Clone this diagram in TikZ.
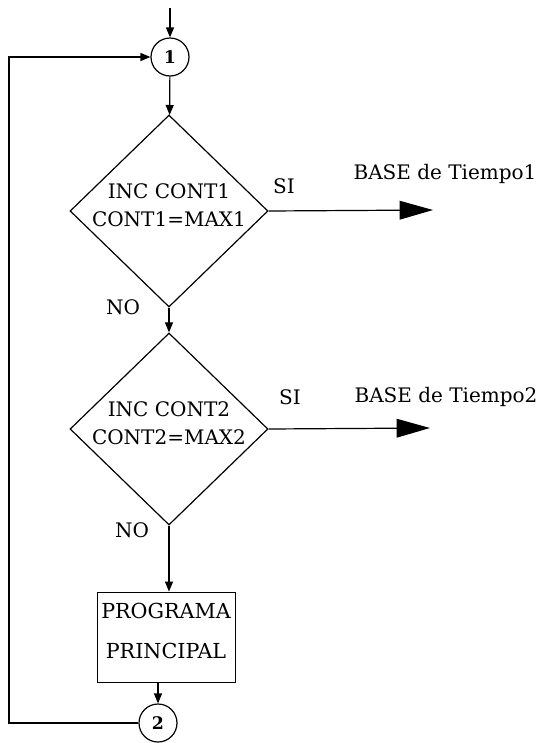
\documentclass[tikz,border=0pt]{standalone}
\usepackage{fontspec}
\setmainfont{DejaVu Serif}
\usetikzlibrary{shapes.geometric,arrows.meta}

\tikzset{every picture/.style={line width=0.9pt}}
\tikzset{
	conn/.style={draw,circle,inner sep=0pt,minimum size=28.5pt,font=\fontsize{13}{16}\selectfont\bfseries},
	decis/.style={draw,diamond,inner sep=0pt,minimum width=148.5pt,minimum height=144pt},
	progbox/.style={draw,rectangle,inner sep=0pt,minimum width=104pt,minimum height=68pt},
	lbl/.style={inner sep=0.75pt,font=\fontsize{15}{21}\selectfont},
	flow/.style={-{Triangle[length=7.5pt,width=6pt]}},
	bigflow/.style={-{Triangle[length=25pt,width=14pt]}},
}

\begin{document}
\begin{tikzpicture}[x=0.75pt,y=0.75pt,yscale=-1,xscale=1]
	\useasboundingbox (0,0) rectangle (542,743);

	% Connectors and blocks
	\node[conn] (c1) at (170,57) {1};
	\node[decis] (d1) at (169,211) {};
	\node[decis] (d2) at (169,429) {};
	\node[progbox] (prog) at (166.5,637.5) {};
	\node[conn] (c2) at (158,723) {2};

	% free ends
	\coordinate (entry) at (170,8);
	\coordinate (out1) at (433,210);
	\coordinate (out2) at (430,428);
	\coordinate (loop) at (9,723);

	% Text Node
	\node[lbl,align=center] (txt1) at (169,205) {INC CONT1\\CONT1=MAX1};
	% Text Node
	\node[lbl,align=center] (txt2) at (169,423) {INC CONT2\\CONT2=MAX2};
	% Text Node
	\node[lbl,align=center,font=\fontsize{15.5}{30}\selectfont] (txtp) at (166,631) {PROGRAMA\\PRINCIPAL};
	% Text Node
	\node[lbl] (si1) at (284,186) {SI};
	\node[lbl] (si2) at (290,397) {SI};
	% Text Node
	\node[lbl] (base1) at (445,174) {BASE de Tiempo1};
	\node[lbl] (base2) at (446,397) {BASE de Tiempo2};
	% Text Node
	\node[lbl] (no1) at (123,307) {NO};
	\node[lbl] (no2) at (132,530) {NO};

	% Straight Lines
	\draw[flow] (entry) -- (c1);
	\draw[flow] (c1) -- (d1);
	\draw[flow] (d1) -- (d2);
	\draw[flow] (d2.south) -- (d2.south |- prog.north);
	\draw[flow] (c2.north |- prog.south) -- (c2);
	\draw[flow,line width=1.1pt] (c2.west) -- (loop) |- (c1.west);
	\draw[bigflow] (d1.east) -- (out1);
	\draw[bigflow] (d2.east) -- (out2);

\end{tikzpicture}
\end{document}
